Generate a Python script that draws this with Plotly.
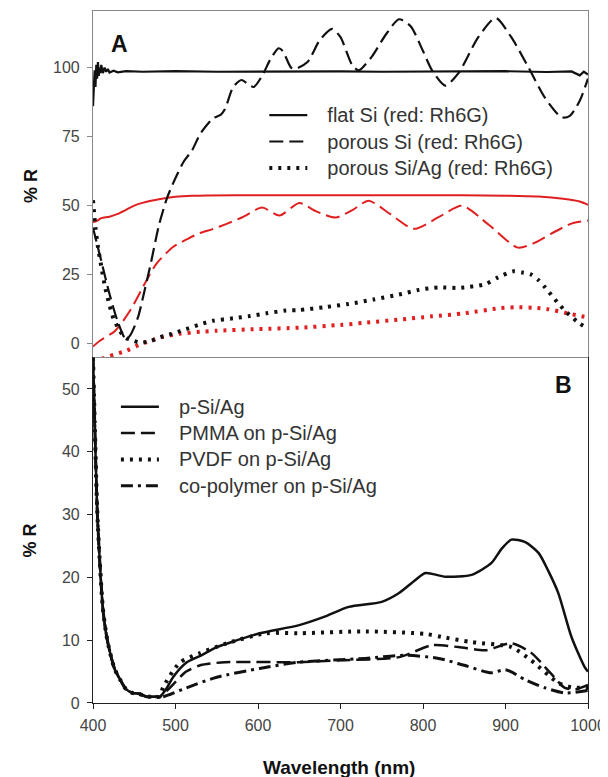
import plotly.graph_objects as go

# ---------------- Panel A data ----------------
flat_si_wl = [400, 401, 402, 403, 404, 405, 406, 407, 408, 409, 410, 412, 414, 416, 418, 420, 425, 430, 440, 460,
              500, 550, 600, 650, 700, 750, 800, 850, 900, 950, 980, 990, 995, 1000]
flat_si_R = [86, 94, 99, 93, 101, 96, 102, 97, 100, 98, 101, 98, 100, 98.5, 99.5, 98.2, 98.9, 98.3, 98.7, 98.5,
             98.7, 98.5, 98.6, 98.5, 98.6, 98.5, 98.6, 98.5, 98.7, 98.4, 98.6, 97.2, 98.5, 97.5]

flat_si_rh_wl = [400, 405, 410, 420, 430, 440, 450, 460, 480, 500, 520, 540, 600, 700, 800, 900, 940, 970, 990, 1000]
flat_si_rh_R = [44, 44.5, 45.5, 46, 47, 48.5, 50, 51, 52.3, 53.2, 53.6, 53.7, 53.8, 53.8, 53.8, 53.6, 53.3, 52.5, 51.5, 50.3]

porous_si_wl = [400, 410, 420, 430, 440, 445, 450, 455, 460, 470, 480, 490, 500, 510, 520, 530, 545, 555, 560, 570,
                580, 590, 595, 605, 615, 625, 630, 640, 645, 660, 675, 690, 700, 714, 722, 738, 755, 771, 785, 800,
                811, 827, 843, 867, 888, 907, 928, 948, 968, 978, 990, 1000]
porous_si_R = [42, 30, 18, 8, 1.5, 3, 6, 10, 16, 29, 43, 53, 60, 66, 70, 76, 81.5, 83, 85, 93,
               95.5, 93.5, 93, 97, 103, 107, 106, 100, 99.5, 102, 110, 114, 111, 101, 99, 104, 112, 117.5, 115, 106,
               99, 93.5, 98, 111, 118, 111, 100, 89, 82, 82.5, 88, 96]

porous_si_rh_wl = [400, 408, 427, 445, 465, 477, 497, 515, 529, 545, 562, 581, 605, 626, 650, 670, 694, 715, 734,
                   760, 789, 820, 847, 880, 915, 935, 955, 980, 1000]
porous_si_rh_R = [-1, 1, 4.7, 12, 23, 29, 35, 38, 40, 41.5, 43.4, 45.8, 49.3, 46.4, 51, 48, 45.7, 48.5, 51.8,
                  47, 41.6, 46, 50, 43, 34.8, 36.5, 39.8, 43.5, 44.6]

porous_siag_wl = [400, 403, 406, 410, 415, 420, 425, 430, 435, 440, 445, 457, 470, 481, 495, 513, 530, 545, 570, 590,
                  610, 634, 650, 680, 710, 740, 774, 795, 819, 843, 876, 891, 909, 920, 930, 940, 948, 960, 972, 988, 1000]
porous_siag_R = [52, 42, 35, 28, 20, 14, 9, 6, 3.5, 2, 1.5, 0.4, 1, 2.3, 3.5, 5.3, 7, 8.3, 9.2, 10,
                 11, 12, 12.2, 13.2, 14.4, 16, 18, 19.5, 20.4, 20.2, 21.6, 24, 26.2, 25.8, 25.2, 23, 20.4, 16, 12, 7.7, 5.4]

porous_siag_rh_wl = [400, 410, 420, 441, 455, 469, 485, 505, 530, 550, 600, 650, 700, 730, 770, 811, 850, 891, 912,
                     935, 952, 975, 1000]
porous_siag_rh_R = [-6, -5.5, -4.5, -2.5, -0.5, 1, 2.5, 3.6, 4.3, 4.7, 5.3, 5.8, 6.8, 7.6, 8.7, 9.9, 11, 12.8, 13.2,
                    13, 12.5, 11, 9.5]

# ---------------- Panel B data ----------------
psiag_wl = [400, 402, 405, 408, 412, 416, 420, 426, 433, 440, 448, 455, 465, 475, 481, 490, 497, 513, 530, 550, 575,
            602, 650, 680, 710, 750, 771, 790, 803, 827, 859, 883, 895, 907, 924, 940, 952, 964, 980, 996, 1000]
psiag_R = [55, 45, 31, 23, 15, 11, 8.4, 5.5, 3.7, 2.2, 1.6, 1.5, 1, 1, 1, 2.5, 4.1, 6.4, 7.5, 8.9, 10,
           11.1, 12.4, 13.7, 15.3, 16.1, 17.5, 19.5, 20.7, 20.1, 20.4, 22.3, 24.5, 26, 25.6, 23.9, 21, 17.5, 10.5, 5.7, 5]

pmma_wl = [400, 402, 405, 408, 412, 416, 420, 426, 433, 440, 448, 455, 465, 475, 481, 490, 513, 530, 560, 650, 700,
           771, 811, 843, 876, 907, 931, 955, 972, 985, 1000]
pmma_R = [55, 45, 31, 23, 15, 11, 8.4, 5.5, 3.7, 2.2, 1.6, 1.5, 1, 1, 1, 2, 5, 6, 6.5, 6.5, 6.8,
          7.3, 9.2, 8.9, 8.4, 9.5, 8, 4.7, 2.4, 2.2, 2.9]

pvdf_wl = [400, 402, 405, 408, 412, 416, 420, 426, 433, 440, 448, 455, 465, 475, 481, 485, 505, 529, 562, 610, 650,
           730, 803, 823, 859, 907, 931, 964, 980, 1000]
pvdf_R = [55, 45, 31, 23, 15, 11, 8.4, 5.5, 3.7, 2.2, 1.6, 1.5, 1, 1, 1, 2.5, 6.4, 7.9, 9.5, 11.1, 11.1,
          11.4, 11, 10.5, 9.7, 8.9, 6.8, 3.2, 2.5, 2.4]

copoly_wl = [400, 402, 405, 408, 412, 416, 420, 426, 433, 440, 448, 455, 465, 475, 485, 513, 550, 602, 650, 730,
             779, 819, 850, 883, 900, 924, 948, 972, 1000]
copoly_R = [55, 45, 31, 23, 15, 11, 8.4, 5.5, 3.7, 2.2, 1.6, 1.5, 1, 1, 1, 2.4, 4.1, 5.5, 6.5, 7.1,
            7.6, 7.1, 6, 4.8, 5.3, 3.7, 2.4, 1.6, 2]

x_ticks = [400, 500, 600, 700, 800, 900, 1000]
yA_ticks = [0, 25, 50, 75, 100]
yB_ticks = [0, 10, 20, 30, 40, 50]

BLACK = "#111111"
RED = "#e02020"
DASH = "14px,6px"
DOT = "3px,6px"
DASHDOT = "12px,5px,3px,5px"
FONT = "Liberation Sans, Arial, sans-serif"


def lab(s):
    # legend label with a small leading gap, rendered at 20px
    return "&nbsp;&nbsp;&nbsp;<span style='font-size:20px'>" + s + "</span>"


def ln(color, width, dash="solid", smooth=True):
    d = dict(color=color, width=width, dash=dash)
    if smooth:
        d.update(shape="spline", smoothing=0.7)
    return d


fig = go.Figure()

# Panel A
fig.add_trace(go.Scatter(x=flat_si_rh_wl, y=flat_si_rh_R, mode="lines", line=ln(RED, 2),
                         showlegend=False, xaxis="x", yaxis="y"))
fig.add_trace(go.Scatter(x=porous_si_rh_wl, y=porous_si_rh_R, mode="lines", line=ln(RED, 2, DASH),
                         showlegend=False, xaxis="x", yaxis="y"))
fig.add_trace(go.Scatter(x=porous_siag_rh_wl, y=porous_siag_rh_R, mode="lines",
                         line=ln(RED, 4, DOT), showlegend=False, xaxis="x", yaxis="y"))
fig.add_trace(go.Scatter(x=flat_si_wl, y=flat_si_R, mode="lines", line=ln(BLACK, 2.2, smooth=False),
                         name=lab("flat Si (red: Rh6G)"), legend="legend", xaxis="x", yaxis="y"))
fig.add_trace(go.Scatter(x=porous_si_wl, y=porous_si_R, mode="lines", line=ln(BLACK, 2.2, DASH),
                         name=lab("porous Si (red: Rh6G)"), legend="legend", xaxis="x", yaxis="y"))
fig.add_trace(go.Scatter(x=porous_siag_wl, y=porous_siag_R, mode="lines", line=ln(BLACK, 4, DOT),
                         name=lab("porous Si/Ag (red: Rh6G)"), legend="legend", xaxis="x", yaxis="y"))

# Panel B
fig.add_trace(go.Scatter(x=psiag_wl, y=psiag_R, mode="lines", line=ln(BLACK, 2.5),
                         name=lab("p-Si/Ag"), legend="legend2", xaxis="x2", yaxis="y2"))
fig.add_trace(go.Scatter(x=pmma_wl, y=pmma_R, mode="lines", line=ln(BLACK, 2.5, DASH),
                         name=lab("PMMA on p-Si/Ag"), legend="legend2", xaxis="x2", yaxis="y2"))
fig.add_trace(go.Scatter(x=pvdf_wl, y=pvdf_R, mode="lines", line=ln(BLACK, 4, DOT),
                         name=lab("PVDF on p-Si/Ag"), legend="legend2", xaxis="x2", yaxis="y2"))
fig.add_trace(go.Scatter(x=copoly_wl, y=copoly_R, mode="lines", line=ln(BLACK, 3, DASHDOT),
                         name=lab("co-polymer on p-Si/Ag"), legend="legend2", xaxis="x2", yaxis="y2"))

# page coordinates (browser adds an 8px body margin)
PL, PR, PT, PB = 93, 590, 10, 703
W, H = PR - PL, PB - PT


def px(X):
    return (X - PL) / W


def py(Y):
    return (PB - Y) / H


split = py(357)
tickfont = dict(family=FONT, size=16, color="#444")
legfont = dict(family=FONT, size=18, color="#333")

fig.update_layout(
    width=600, height=769,
    margin=dict(l=PL - 8, r=608 - PR, t=PT - 8, b=777 - PB),
    paper_bgcolor="white", plot_bgcolor="white",
    xaxis=dict(domain=[0, 1], anchor="y", range=[400, 1000], showticklabels=False, ticks="",
               showgrid=False, zeroline=False, showline=True, linecolor="#888", linewidth=1.2, mirror=True),
    yaxis=dict(domain=[split, 1], anchor="x", range=[-5, 120.5], tickvals=yA_ticks, ticks="outside",
               ticklen=5, tickcolor="#888", tickfont=tickfont, showgrid=False, zeroline=False,
               showline=True, linecolor="#888", linewidth=1.2, mirror=True, ticklabelstandoff=4),
    xaxis2=dict(domain=[0, 1], anchor="y2", range=[400, 1000], tickvals=x_ticks, ticks="outside", ticklen=5,
                tickcolor="#222", tickfont=tickfont, showgrid=False, zeroline=False, showline=True,
                linecolor="#222", linewidth=1.2, ticklabelstandoff=3),
    yaxis2=dict(domain=[0, split], anchor="x2", range=[0, 55], tickvals=yB_ticks, ticks="outside", ticklen=5,
                tickcolor="#222", tickfont=tickfont, showgrid=False, zeroline=False, showline=True,
                linecolor="#222", linewidth=1.2, mirror=True, ticklabelstandoff=4),
    legend=dict(x=px(265), y=py(96), xanchor="left", yanchor="top", xref="paper", yref="paper",
                bgcolor="rgba(0,0,0,0)", borderwidth=0, font=legfont, itemwidth=38, tracegroupgap=0),
    legend2=dict(x=px(116), y=py(388), xanchor="left", yanchor="top", xref="paper",
                 yref="paper", bgcolor="rgba(0,0,0,0)", borderwidth=0, font=legfont, itemwidth=38, tracegroupgap=0),
    annotations=[
        dict(text="<b>A</b>", x=px(120), y=py(43), xref="paper", yref="paper", xanchor="center", yanchor="middle",
             showarrow=False, font=dict(family=FONT, size=23, color="#111")),
        dict(text="<b>B</b>", x=px(565), y=py(385), xref="paper", yref="paper", xanchor="center", yanchor="middle",
             showarrow=False, font=dict(family=FONT, size=23, color="#111")),
        dict(text="<b>% R</b>", x=px(30), y=py(185), xref="paper", yref="paper", xanchor="center", yanchor="middle",
             showarrow=False, textangle=-90, font=dict(family=FONT, size=18, color="#111")),
        dict(text="<b>% R</b>", x=px(30), y=py(540), xref="paper", yref="paper", xanchor="center", yanchor="middle",
             showarrow=False, textangle=-90, font=dict(family=FONT, size=18, color="#111")),
        dict(text="<b>Wavelength (nm)</b>", x=px(340), y=py(768), xref="paper", yref="paper", xanchor="center",
             yanchor="middle", showarrow=False, font=dict(family=FONT, size=19, color="#111")),
    ],
)

fig.write_html("out.html")
